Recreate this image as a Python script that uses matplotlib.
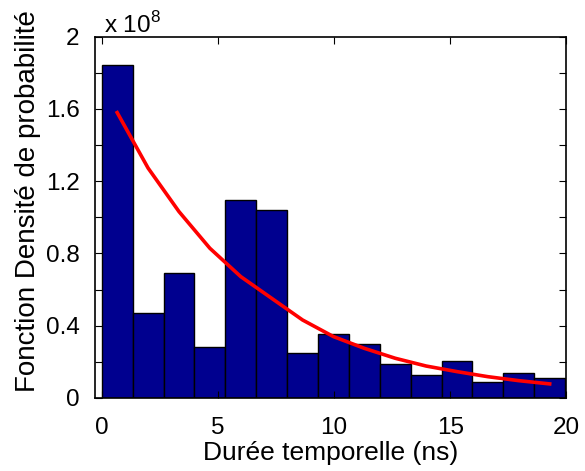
import matplotlib
matplotlib.use("Agg")
import matplotlib.pyplot as plt
import numpy as np

# histogram bins (ns) and heights (x 1e8)
bin_start = 0.0
bin_width = 1.33
heights = [1.845, 0.469, 0.69, 0.281, 1.097, 1.04, 0.251, 0.353,
           0.297, 0.188, 0.126, 0.203, 0.089, 0.140, 0.109]

# fitted curve, sampled at bin centres
fit_values = [1.58, 1.273, 1.032, 0.829, 0.672, 0.552, 0.432, 0.34,
              0.275, 0.22, 0.177, 0.146, 0.118, 0.096, 0.078]

x_ticks = [0, 5, 10, 15, 20]
y_ticks = [0, 0.4, 0.8, 1.2, 1.6, 2]

plt.rcParams["font.family"] = ["Liberation Sans", "DejaVu Sans"]

fig = plt.figure(figsize=(5.85, 4.71), dpi=100)
ax = fig.add_axes([0.162, 0.155, 0.806, 0.767])

lefts = bin_start + bin_width * np.arange(len(heights))
centres = lefts + bin_width / 2

ax.bar(lefts, heights, width=bin_width, align="edge",
       color="#00008F", edgecolor="black", linewidth=1.0)
ax.plot(centres, fit_values, color="#FF0000", linewidth=2.6)

ax.set_xlim(-0.3, 20)
ax.set_ylim(0, 2)
ax.set_xticks(x_ticks)
ax.set_xticklabels([str(t) for t in x_ticks])
ax.set_yticks(y_ticks)
ax.set_yticklabels(["0", "0.4", "0.8", "1.2", "1.6", "2"])
ax.set_yticks(np.arange(0.2, 2.0, 0.4), minor=True)

ax.tick_params(which="both", direction="in", top=True, right=True,
               labelsize=17.5, length=5, width=0.8)
ax.tick_params(axis="x", pad=14)
ax.tick_params(axis="y", pad=11)

for side in ax.spines.values():
    side.set_linewidth(1.2)

ax.set_xlabel("Durée temporelle (ns)", fontsize=19, labelpad=1)
ax.set_ylabel("Fonction Densité de probabilité", fontsize=20)
ax.yaxis.set_label_coords(-0.114, 0.545)

fig.text(0.178, 0.93, r"x 10$^{\mathregular{8}}$", fontsize=17.5)

fig.savefig("out.png", dpi=100)
